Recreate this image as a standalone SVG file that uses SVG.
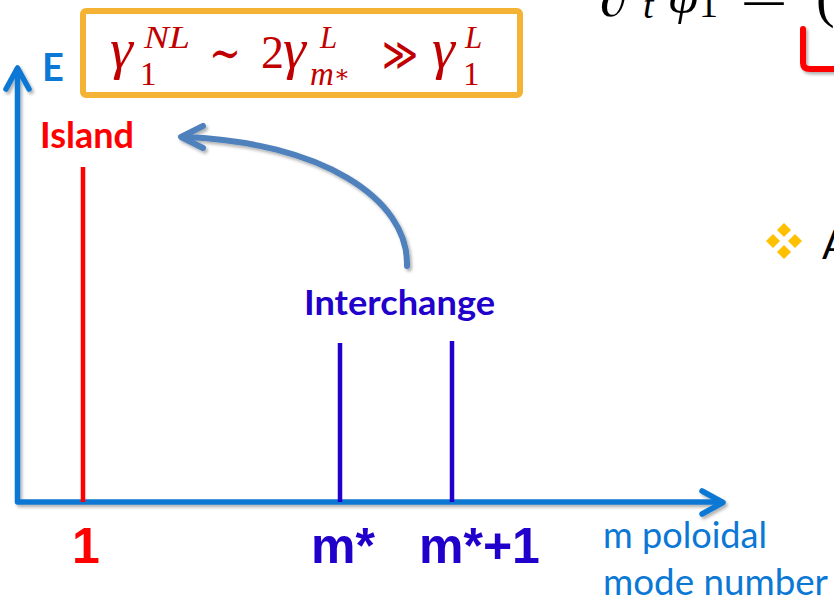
<svg xmlns="http://www.w3.org/2000/svg" width="834" height="601" viewBox="0 0 834 601">
  <style>
    .axis { fill: none; stroke: #0A78D4; stroke-width: 5.5; stroke-linecap: round; stroke-linejoin: round; }
    .bold { font-family: Lato, "Liberation Sans", sans-serif; font-weight: bold; }
    .arial { font-family: "Liberation Sans", Arial, sans-serif; font-weight: bold; }
    .math { font-family: "Liberation Serif", "DejaVu Serif", serif; fill: #C00000; }
    .it { font-style: italic; }
    .g { font-size: 58px; }
    .blk { font-family: "Liberation Serif", "DejaVu Serif", serif; fill: #000; }
    .purple { fill: #2200CC; }
    .spike { stroke-width: 4.5; }
  </style>
  <defs>
    <filter id="sh" x="-10%" y="-10%" width="130%" height="130%">
      <feDropShadow dx="2" dy="2.5" stdDeviation="1.5" flood-color="#000" flood-opacity="0.3"/>
    </filter>
  </defs>
  <rect width="834" height="601" fill="#fff"/>

  <!-- clipped fragments at the right edge -->
  <g id="fragment-equation">
    <text class="blk" x="600" y="16" font-size="56">∂</text>
    <text class="blk it" x="643" y="18" font-size="38">t</text>
    <text class="blk it" x="667" y="12" font-size="54">ψ</text>
    <text class="blk" x="699" y="17" font-size="38">1</text>
    <text class="blk" x="740" y="17" font-size="56" textLength="48" lengthAdjust="spacingAndGlyphs">=</text>
    <text class="blk" x="816" y="16" font-size="56">(</text>
    <path d="M803,29 V63 Q803,69 810,69 H834" fill="none" stroke="#FF0000" stroke-width="6" stroke-linecap="round" filter="url(#sh)"/>
  </g>
  <g id="fragment-bullet" fill="#FFC000">
    <polygon points="784,223 791,230 784,237 777,230"/>
    <polygon points="773,234 780,241 773,248 766,241"/>
    <polygon points="795,234 802,241 795,248 788,241"/>
    <polygon points="784,245 791,252 784,259 777,252"/>
    <text x="822" y="259" font-family="Lato, 'Liberation Sans', sans-serif" font-size="40" fill="#000">A</text>
  </g>

  <!-- axes -->
  <g id="axes" filter="url(#sh)">
    <path class="axis" d="M17.5,70 V502 H721"/>
    <polyline class="axis" points="6,89 17.5,68 29,89"/>
    <polyline class="axis" points="702,491 723,502.5 702,514"/>
  </g>
  <g id="label-E">
    <text class="bold" x="42" y="81" font-size="38" fill="#0A78D4">E</text>
  </g>
  <g id="label-axis-x" font-family="Lato, 'Liberation Sans', sans-serif" font-size="37" fill="#0A78D4">
    <text x="603" y="548" textLength="164" lengthAdjust="spacingAndGlyphs">m poloidal</text>
    <text x="603" y="595" textLength="225" lengthAdjust="spacingAndGlyphs">mode number</text>
  </g>

  <!-- formula box -->
  <g id="formula">
    <rect x="83" y="11" width="437" height="84" rx="3" fill="#fff" stroke="#F5B335" stroke-width="6"/>
    <text class="math it g" x="110" y="68">γ</text>
    <text class="math" x="140" y="85" font-size="33">1</text>
    <text class="math it" x="144" y="48" font-size="31" textLength="46" lengthAdjust="spacingAndGlyphs">NL</text>
    <text class="math" x="209" y="70" font-size="50" textLength="32" lengthAdjust="spacingAndGlyphs">∼</text>
    <text class="math" x="261" y="68" font-size="46">2</text>
    <text class="math it g" x="283" y="68">γ</text>
    <text class="math it" x="320" y="48" font-size="31">L</text>
    <text class="math it" x="310" y="85" font-size="33">m<tspan font-size="24" font-style="normal" dy="-3">∗</tspan></text>
    <text class="math" x="382" y="70" font-size="46" textLength="36" lengthAdjust="spacingAndGlyphs">≫</text>
    <text class="math it g" x="432" y="68">γ</text>
    <text class="math it" x="465" y="48" font-size="31">L</text>
    <text class="math" x="463" y="85" font-size="33">1</text>
  </g>

  <!-- Island -->
  <g id="island">
    <text class="bold" x="40" y="148" font-size="36" fill="#FF0000">Island</text>
    <line class="spike" x1="83" y1="167" x2="83" y2="502" stroke="#FF0000"/>
    <text class="arial" x="72" y="563" font-size="50" fill="#FF0000">1</text>
  </g>

  <!-- Interchange -->
  <g id="interchange">
    <text class="bold purple" x="304" y="315" font-size="35" textLength="191" lengthAdjust="spacingAndGlyphs">Interchange</text>
  </g>
  <g id="mode-mstar">
    <line class="spike" x1="340" y1="343" x2="340" y2="502" stroke="#2200CC"/>
    <text class="arial purple" x="311" y="563" font-size="50">m*</text>
  </g>
  <g id="mode-mstar-plus-1">
    <line class="spike" x1="452" y1="341" x2="452" y2="502" stroke="#2200CC"/>
    <text class="arial purple" x="419" y="563" font-size="50">m*+1</text>
  </g>

  <!-- connectors -->
  <g id="connectors" filter="url(#sh)" fill="none" stroke="#4F81BD" stroke-width="6" stroke-linecap="round" stroke-linejoin="round">
    <path d="M407,266 C409,198 320,142 184,137"/>
    <polyline points="203,126 181,137 203,148"/>
  </g>
</svg>
